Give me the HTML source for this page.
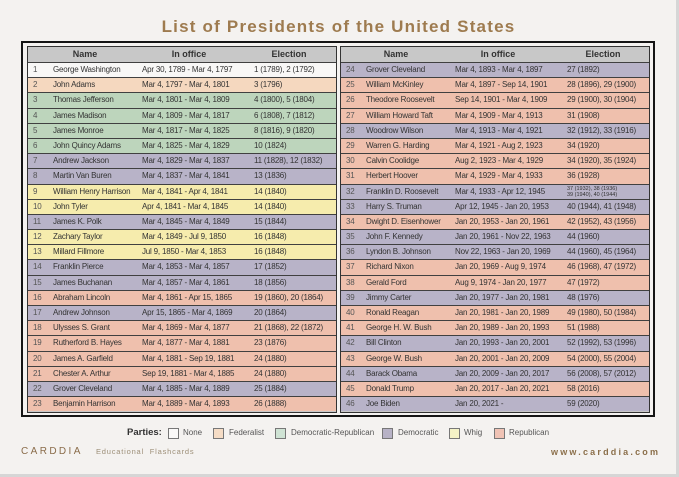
<!DOCTYPE html>
<html><head><meta charset="utf-8">
<style>
*{margin:0;padding:0;box-sizing:border-box}
html,body{width:679px;height:477px;overflow:hidden;background:#d6d6d6;font-family:"Liberation Sans","DejaVu Sans",sans-serif}
.card{position:absolute;left:0;top:0;width:676px;height:474px;background:#f4f2f0}
.title{position:absolute;left:0;top:17px;width:677px;height:20px;line-height:20px;text-align:center;font-size:17px;font-weight:bold;letter-spacing:1.2px;color:#9e7b4f}
.frame{position:absolute;left:21px;top:41px;width:634px;height:376px;border:2px solid #151515}
.panel{position:absolute;top:46px;width:310px;height:367px;border:1px solid #333;background:#c8c8c8;overflow:hidden}
.hd{position:relative;height:15px;background:#c8c8c8;font-size:9px;font-weight:bold;color:#333;line-height:15px}
.hd span{position:absolute;top:0;transform:translateX(-50%);white-space:nowrap}
.r{position:relative;height:15.2px;border-top:1px solid #404040;font-size:8px;letter-spacing:-0.2px;color:#333;line-height:14px;white-space:nowrap}
.r span{position:absolute;top:0}
.r .n{left:5px;color:#555}
.r .m{left:25px}
.r .o{left:114px}
.r .e{left:226px}
.N{background:#f8f7f6}.F{background:#f5d8bf}.G{background:#bdd5bc}.D{background:#b8b3c8}.W{background:#f6ecad}.R{background:#efc0ad}
.sm{font-size:5.5px;line-height:6px;top:1px!important;letter-spacing:0}
.leg{position:absolute;top:427px;height:12px;line-height:12px;font-size:8px;color:#555;white-space:nowrap}
.box{position:absolute;top:428px;width:11px;height:11px;border:1px solid #777}
.logo{position:absolute;left:21px;top:446px;font-size:10px;letter-spacing:2.4px;color:#8a6c4a;line-height:12px}
.edu{position:absolute;left:96px;top:447px;font-size:7.5px;letter-spacing:0.8px;color:#9d8f78;line-height:10px}
.www{position:absolute;left:551px;top:446px;font-size:9px;font-weight:bold;letter-spacing:2.2px;color:#8b6f4a;line-height:12px}
</style></head><body>
<div class="card"></div>
<div class="title">List of Presidents of the United States</div>
<div class="frame"></div>

<div class="panel" style="left:27px">
<div class="hd"><span style="left:57px">Name</span><span style="left:161px">In office</span><span style="left:261px">Election</span></div>
<div class="r N"><span class="n">1</span><span class="m">George Washington</span><span class="o">Apr 30, 1789 - Mar 4, 1797</span><span class="e">1 (1789), 2 (1792)</span></div>
<div class="r F"><span class="n">2</span><span class="m">John Adams</span><span class="o">Mar 4, 1797 - Mar 4, 1801</span><span class="e">3 (1796)</span></div>
<div class="r G"><span class="n">3</span><span class="m">Thomas Jefferson</span><span class="o">Mar 4, 1801 - Mar 4, 1809</span><span class="e">4 (1800), 5 (1804)</span></div>
<div class="r G"><span class="n">4</span><span class="m">James Madison</span><span class="o">Mar 4, 1809 - Mar 4, 1817</span><span class="e">6 (1808), 7 (1812)</span></div>
<div class="r G"><span class="n">5</span><span class="m">James Monroe</span><span class="o">Mar 4, 1817 - Mar 4, 1825</span><span class="e">8 (1816), 9 (1820)</span></div>
<div class="r G"><span class="n">6</span><span class="m">John Quincy Adams</span><span class="o">Mar 4, 1825 - Mar 4, 1829</span><span class="e">10 (1824)</span></div>
<div class="r D"><span class="n">7</span><span class="m">Andrew Jackson</span><span class="o">Mar 4, 1829 - Mar 4, 1837</span><span class="e">11 (1828), 12 (1832)</span></div>
<div class="r D"><span class="n">8</span><span class="m">Martin Van Buren</span><span class="o">Mar 4, 1837 - Mar 4, 1841</span><span class="e">13 (1836)</span></div>
<div class="r W"><span class="n">9</span><span class="m">William Henry Harrison</span><span class="o">Mar 4, 1841 - Apr 4, 1841</span><span class="e">14 (1840)</span></div>
<div class="r W"><span class="n">10</span><span class="m">John Tyler</span><span class="o">Apr 4, 1841 - Mar 4, 1845</span><span class="e">14 (1840)</span></div>
<div class="r D"><span class="n">11</span><span class="m">James K. Polk</span><span class="o">Mar 4, 1845 - Mar 4, 1849</span><span class="e">15 (1844)</span></div>
<div class="r W"><span class="n">12</span><span class="m">Zachary Taylor</span><span class="o">Mar 4, 1849 - Jul 9, 1850</span><span class="e">16 (1848)</span></div>
<div class="r W"><span class="n">13</span><span class="m">Millard Fillmore</span><span class="o">Jul 9, 1850 - Mar 4, 1853</span><span class="e">16 (1848)</span></div>
<div class="r D"><span class="n">14</span><span class="m">Franklin Pierce</span><span class="o">Mar 4, 1853 - Mar 4, 1857</span><span class="e">17 (1852)</span></div>
<div class="r D"><span class="n">15</span><span class="m">James Buchanan</span><span class="o">Mar 4, 1857 - Mar 4, 1861</span><span class="e">18 (1856)</span></div>
<div class="r R"><span class="n">16</span><span class="m">Abraham Lincoln</span><span class="o">Mar 4, 1861 - Apr 15, 1865</span><span class="e">19 (1860), 20 (1864)</span></div>
<div class="r D"><span class="n">17</span><span class="m">Andrew Johnson</span><span class="o">Apr 15, 1865 - Mar 4, 1869</span><span class="e">20 (1864)</span></div>
<div class="r R"><span class="n">18</span><span class="m">Ulysses S. Grant</span><span class="o">Mar 4, 1869 - Mar 4, 1877</span><span class="e">21 (1868), 22 (1872)</span></div>
<div class="r R"><span class="n">19</span><span class="m">Rutherford B. Hayes</span><span class="o">Mar 4, 1877 - Mar 4, 1881</span><span class="e">23 (1876)</span></div>
<div class="r R"><span class="n">20</span><span class="m">James A. Garfield</span><span class="o">Mar 4, 1881 - Sep 19, 1881</span><span class="e">24 (1880)</span></div>
<div class="r R"><span class="n">21</span><span class="m">Chester A. Arthur</span><span class="o">Sep 19, 1881 - Mar 4, 1885</span><span class="e">24 (1880)</span></div>
<div class="r D"><span class="n">22</span><span class="m">Grover Cleveland</span><span class="o">Mar 4, 1885 - Mar 4, 1889</span><span class="e">25 (1884)</span></div>
<div class="r R"><span class="n">23</span><span class="m">Benjamin Harrison</span><span class="o">Mar 4, 1889 - Mar 4, 1893</span><span class="e">26 (1888)</span></div>
</div>

<div class="panel" style="left:340px">
<div class="hd"><span style="left:55px">Name</span><span style="left:157px">In office</span><span style="left:262px">Election</span></div>
<div class="r D"><span class="n">24</span><span class="m">Grover Cleveland</span><span class="o">Mar 4, 1893 - Mar 4, 1897</span><span class="e">27 (1892)</span></div>
<div class="r R"><span class="n">25</span><span class="m">William McKinley</span><span class="o">Mar 4, 1897 - Sep 14, 1901</span><span class="e">28 (1896), 29 (1900)</span></div>
<div class="r R"><span class="n">26</span><span class="m">Theodore Roosevelt</span><span class="o">Sep 14, 1901 - Mar 4, 1909</span><span class="e">29 (1900), 30 (1904)</span></div>
<div class="r R"><span class="n">27</span><span class="m">William Howard Taft</span><span class="o">Mar 4, 1909 - Mar 4, 1913</span><span class="e">31 (1908)</span></div>
<div class="r D"><span class="n">28</span><span class="m">Woodrow Wilson</span><span class="o">Mar 4, 1913 - Mar 4, 1921</span><span class="e">32 (1912), 33 (1916)</span></div>
<div class="r R"><span class="n">29</span><span class="m">Warren G. Harding</span><span class="o">Mar 4, 1921 - Aug 2, 1923</span><span class="e">34 (1920)</span></div>
<div class="r R"><span class="n">30</span><span class="m">Calvin Coolidge</span><span class="o">Aug 2, 1923 - Mar 4, 1929</span><span class="e">34 (1920), 35 (1924)</span></div>
<div class="r R"><span class="n">31</span><span class="m">Herbert Hoover</span><span class="o">Mar 4, 1929 - Mar 4, 1933</span><span class="e">36 (1928)</span></div>
<div class="r D"><span class="n">32</span><span class="m">Franklin D. Roosevelt</span><span class="o">Mar 4, 1933 - Apr 12, 1945</span><span class="e sm">37 (1932), 38 (1936)<br>39 (1940), 40 (1944)</span></div>
<div class="r D"><span class="n">33</span><span class="m">Harry S. Truman</span><span class="o">Apr 12, 1945 - Jan 20, 1953</span><span class="e">40 (1944), 41 (1948)</span></div>
<div class="r R"><span class="n">34</span><span class="m">Dwight D. Eisenhower</span><span class="o">Jan 20, 1953 - Jan 20, 1961</span><span class="e">42 (1952), 43 (1956)</span></div>
<div class="r D"><span class="n">35</span><span class="m">John F. Kennedy</span><span class="o">Jan 20, 1961 - Nov 22, 1963</span><span class="e">44 (1960)</span></div>
<div class="r D"><span class="n">36</span><span class="m">Lyndon B. Johnson</span><span class="o">Nov 22, 1963 - Jan 20, 1969</span><span class="e">44 (1960), 45 (1964)</span></div>
<div class="r R"><span class="n">37</span><span class="m">Richard Nixon</span><span class="o">Jan 20, 1969 - Aug 9, 1974</span><span class="e">46 (1968), 47 (1972)</span></div>
<div class="r R"><span class="n">38</span><span class="m">Gerald Ford</span><span class="o">Aug 9, 1974 - Jan 20, 1977</span><span class="e">47 (1972)</span></div>
<div class="r D"><span class="n">39</span><span class="m">Jimmy Carter</span><span class="o">Jan 20, 1977 - Jan 20, 1981</span><span class="e">48 (1976)</span></div>
<div class="r R"><span class="n">40</span><span class="m">Ronald Reagan</span><span class="o">Jan 20, 1981 - Jan 20, 1989</span><span class="e">49 (1980), 50 (1984)</span></div>
<div class="r R"><span class="n">41</span><span class="m">George H. W. Bush</span><span class="o">Jan 20, 1989 - Jan 20, 1993</span><span class="e">51 (1988)</span></div>
<div class="r D"><span class="n">42</span><span class="m">Bill Clinton</span><span class="o">Jan 20, 1993 - Jan 20, 2001</span><span class="e">52 (1992), 53 (1996)</span></div>
<div class="r R"><span class="n">43</span><span class="m">George W. Bush</span><span class="o">Jan 20, 2001 - Jan 20, 2009</span><span class="e">54 (2000), 55 (2004)</span></div>
<div class="r D"><span class="n">44</span><span class="m">Barack Obama</span><span class="o">Jan 20, 2009 - Jan 20, 2017</span><span class="e">56 (2008), 57 (2012)</span></div>
<div class="r R"><span class="n">45</span><span class="m">Donald Trump</span><span class="o">Jan 20, 2017 - Jan 20, 2021</span><span class="e">58 (2016)</span></div>
<div class="r D"><span class="n">46</span><span class="m">Joe Biden</span><span class="o">Jan 20, 2021 -</span><span class="e">59 (2020)</span></div>
</div>

<div class="leg" style="left:127px;font-size:9.5px;font-weight:bold;color:#333">Parties:</div>
<div class="box" style="left:168px;background:#faf9f8"></div><div class="leg" style="left:183px">None</div>
<div class="box" style="left:213px;background:#f5dcc5"></div><div class="leg" style="left:229px">Federalist</div>
<div class="box" style="left:275px;background:#cfe3d4"></div><div class="leg" style="left:291px">Democratic-Republican</div>
<div class="box" style="left:382px;background:#b7b2c6"></div><div class="leg" style="left:398px">Democratic</div>
<div class="box" style="left:449px;background:#f4f2c6"></div><div class="leg" style="left:464px">Whig</div>
<div class="box" style="left:494px;background:#f0c3b5"></div><div class="leg" style="left:509px">Republican</div>

<div class="logo">CARDDIA</div>
<div class="edu">Educational&nbsp; Flashcards</div>
<div class="www">www.carddia.com</div>
</body></html>
